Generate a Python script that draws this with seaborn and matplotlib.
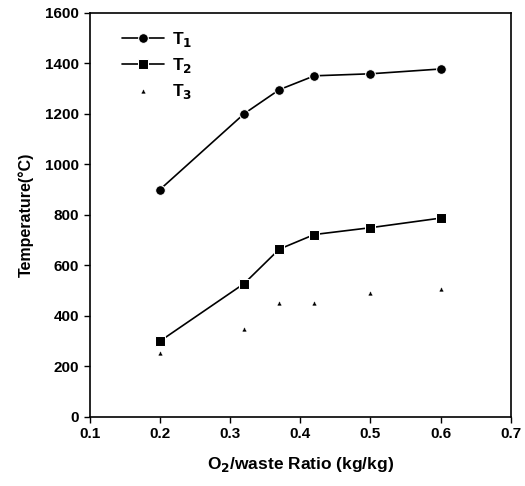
import matplotlib
matplotlib.use("Agg")
import matplotlib.pyplot as plt
import pandas as pd
import seaborn as sns

ratio = [0.2, 0.32, 0.37, 0.42, 0.5, 0.6]
t1 = [900, 1200, 1295, 1350, 1358, 1377]
t2 = [300, 528, 664, 722, 749, 787]
t3 = [253, 349, 452, 452, 489, 505]
series = ["T$_1$", "T$_2$", "T$_3$"]

df = pd.DataFrame({
    "ratio": ratio * 3,
    "temp": t1 + t2 + t3,
    "series": [series[0]] * 6 + [series[1]] * 6 + [series[2]] * 6,
})

sns.set_style("ticks")
plt.rcParams["font.family"] = ["Liberation Sans", "DejaVu Sans"]
plt.rcParams["font.weight"] = "bold"
plt.rcParams["text.color"] = "black"
plt.rcParams["axes.labelcolor"] = "black"
plt.rcParams["xtick.color"] = "black"
plt.rcParams["ytick.color"] = "black"

fig = plt.figure(figsize=(5.25, 4.86), dpi=100)
ax = fig.add_axes([0.171, 0.142, 0.802, 0.832])

sns.lineplot(data=df[df.series == series[0]], x="ratio", y="temp", ax=ax,
             color="black", lw=1.2, marker="o", markersize=7, label=series[0])
sns.lineplot(data=df[df.series == series[1]], x="ratio", y="temp", ax=ax,
             color="black", lw=1.2, marker="s", markersize=7, label=series[1])
sns.scatterplot(data=df[df.series == series[2]], x="ratio", y="temp", ax=ax,
                color="black", marker="^", s=12, label=series[2])

ax.set_xlim(0.1, 0.7)
ax.set_ylim(0, 1600)
ax.set_xticks([0.1, 0.2, 0.3, 0.4, 0.5, 0.6, 0.7])
ax.set_yticks(range(0, 1601, 200))
ax.tick_params(labelsize=11, length=4, width=1, colors="black")
for lbl in ax.get_xticklabels() + ax.get_yticklabels():
    lbl.set_fontweight("bold")
for sp in ax.spines.values():
    sp.set_color("black")
    sp.set_linewidth(1.2)

ax.set_xlabel("O$_2$/waste Ratio (kg/kg)", fontsize=12.5, fontweight="bold", labelpad=10)
ax.set_ylabel("Temperature(°C)", fontsize=11.5, fontweight="bold", labelpad=8)

ax.legend(loc="upper left", frameon=False, fontsize=12.5, handlelength=2.4,
          handletextpad=0.5, borderaxespad=0.5, borderpad=0.5,
          labelspacing=0.4, bbox_to_anchor=(0.035, 1.0))

fig.savefig("out.png", dpi=100)
plt.close()
